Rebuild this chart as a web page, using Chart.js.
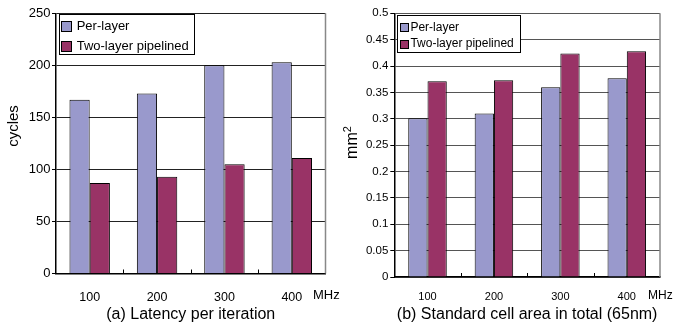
<!DOCTYPE html>
<html>
<head>
<meta charset="utf-8">
<script src="https://cdn.jsdelivr.net/npm/chart.js@4.4.0/dist/chart.umd.min.js"></script>
<style>
html, body { margin: 0; padding: 0; background: #fff; }
#wrap { position: relative; width: 673px; height: 331px; overflow: hidden; }
#latency { position: absolute; left: 0; top: 0; }
#area { position: absolute; left: 340px; top: 0; }
</style>
</head>
<body>
<div id="wrap">
  <canvas id="latency" width="340" height="331"></canvas>
  <canvas id="area" width="333" height="331"></canvas>
</div>
<script>
// data
const freqs = ['100', '200', '300', '400'];
const seriesNames = ['Per-layer', 'Two-layer pipelined'];
const latencyPerLayer = [167, 173, 200, 203];
const latencyPipelined = [87, 93, 105, 111];
const areaPerLayer = [0.301, 0.310, 0.360, 0.377];
const areaPipelined = [0.371, 0.373, 0.424, 0.428];
const latencyTicks = [0, 50, 100, 150, 200, 250];
const areaTicks = [0, 0.05, 0.1, 0.15, 0.2, 0.25, 0.3, 0.35, 0.4, 0.45, 0.5];

const FONT = "'Liberation Sans', Arial, sans-serif";
Chart.defaults.font.family = FONT;
Chart.defaults.color = '#000';

const BLUE = '#9999cc';
const RED = '#993366';

// frame, inner category ticks, boxed legend, unit and y title
const decor = {
  id: 'decor',
  afterDatasetsDraw(chart, args, o) {
    const ctx = chart.ctx;
    const a = chart.chartArea;
    const xs = chart.scales.x;
    ctx.save();

    // right frame line
    ctx.strokeStyle = o.frameColor;
    ctx.lineWidth = 1.5;
    ctx.beginPath();
    ctx.moveTo(a.right, a.bottom);
    ctx.lineTo(a.right, a.top);
    ctx.stroke();

    // small ticks between categories, pointing up
    ctx.strokeStyle = '#000';
    ctx.lineWidth = 1;
    for (let i = 1; i < chart.data.labels.length; i++) {
      const px = Math.round((xs.getPixelForValue(i - 1) + xs.getPixelForValue(i)) / 2) + 0.5;
      ctx.beginPath();
      ctx.moveTo(px, a.bottom);
      ctx.lineTo(px, a.bottom - 4);
      ctx.stroke();
    }

    // legend box
    const lg = o.legend;
    ctx.font = lg.size + 'px ' + FONT;
    const tw = Math.max(...chart.data.datasets.map(d => ctx.measureText(d.label).width));
    const bx = Math.round(a.left + lg.dx);
    const by = Math.round(a.top + lg.dy);
    const bw = Math.round(lg.textX + tw + lg.padR);
    ctx.fillStyle = '#fff';
    ctx.fillRect(bx, by, bw, lg.h);
    ctx.strokeStyle = '#000';
    ctx.strokeRect(bx + 0.5, by + 0.5, bw, lg.h);
    chart.data.datasets.forEach((d, i) => {
      const cy = by + lg.rows[i];
      const sx = Math.round(bx + lg.swX);
      const sy = Math.round(cy - lg.sw / 2);
      ctx.fillStyle = d.backgroundColor;
      ctx.fillRect(sx, sy, lg.sw, lg.sw);
      ctx.strokeStyle = '#000';
      ctx.strokeRect(sx + 0.5, sy + 0.5, lg.sw - 1, lg.sw - 1);
      ctx.fillStyle = '#000';
      ctx.textAlign = 'left';
      ctx.textBaseline = 'middle';
      ctx.fillText(d.label, bx + lg.textX, cy);
    });

    // unit after the last category
    ctx.font = o.unitSize + 'px ' + FONT;
    ctx.fillStyle = '#000';
    ctx.textAlign = 'left';
    ctx.textBaseline = 'middle';
    ctx.fillText(o.unit, a.right + o.unitDx, a.bottom + o.unitDy);

    // rotated y title, optional superscript
    const t = o.yTitle;
    ctx.translate(t.x, t.y);
    ctx.rotate(-Math.PI / 2);
    ctx.font = t.size + 'px ' + FONT;
    const w1 = ctx.measureText(t.text).width;
    let w2 = 0;
    if (t.sup) {
      ctx.font = t.supSize + 'px ' + FONT;
      w2 = ctx.measureText(t.sup).width;
    }
    const x0 = -(w1 + w2) / 2;
    ctx.font = t.size + 'px ' + FONT;
    ctx.fillText(t.text, x0, 0);
    if (t.sup) {
      ctx.font = t.supSize + 'px ' + FONT;
      ctx.fillText(t.sup, x0 + w1, -5);
    }
    ctx.restore();
  }
};

function makeChart(id, c) {
  return new Chart(document.getElementById(id), {
    type: 'bar',
    data: {
      labels: freqs,
      datasets: [
        { label: seriesNames[0], data: c.a, backgroundColor: BLUE, borderColor: '#000', borderWidth: 1 },
        { label: seriesNames[1], data: c.b, backgroundColor: RED, borderColor: '#000', borderWidth: 1 }
      ]
    },
    options: {
      responsive: false,
      animation: false,
      events: [],
      categoryPercentage: c.catPct,
      barPercentage: 1.0,
      layout: { padding: { top: 13.3, right: c.padRight, left: 0, bottom: 0 } },
      plugins: {
        legend: { display: false },
        tooltip: { enabled: false },
        decor: c.decor
      },
      scales: {
        x: {
          grid: { display: false, drawTicks: false },
          border: { display: true, color: '#000', width: 1.5 },
          ticks: { padding: c.xPad, font: { size: c.xSize }, maxRotation: 0 },
          title: { display: true, text: c.title, font: { size: 16 }, padding: { top: 0, bottom: 6.4 } },
          afterFit: s => { s.height = c.xHeight; }
        },
        y: {
          min: c.ticks[0],
          max: c.ticks[c.ticks.length - 1],
          afterBuildTicks: s => { s.ticks = c.ticks.map(v => ({ value: v })); },
          grid: { color: c.gridColor, tickColor: '#000', tickLength: 4, lineWidth: 1 },
          border: { color: '#000', width: 1.5 },
          ticks: { padding: c.yPad, font: { size: c.ySize }, callback: v => +v.toFixed(2) },
          afterFit: s => { s.width = c.yWidth; }
        }
      }
    },
    plugins: [decor]
  });
}

makeChart('latency', {
  a: latencyPerLayer,
  b: latencyPipelined,
  ticks: latencyTicks,
  title: '(a) Latency per iteration',
  catPct: 0.6,
  padRight: 14.5,
  xHeight: 57.5,
  yWidth: 56,
  xPad: 17,
  xSize: 12.5,
  ySize: 13,
  yPad: 1.5,
  gridColor: '#222',
  decor: {
    frameColor: '#888',
    unit: 'MHz', unitSize: 13, unitDx: -12.5, unitDy: 22,
    yTitle: { text: 'cycles', size: 15, x: 14, y: 126 },
    legend: { size: 13, dx: 3, dy: 0.7, swX: 2, sw: 11, textX: 17.7, padR: 5, h: 40, rows: [12.7, 32.7] }
  }
});

makeChart('area', {
  a: areaPerLayer,
  b: areaPipelined,
  ticks: areaTicks,
  title: '(b) Standard cell area in total (65nm)',
  catPct: 0.58,
  padRight: 13,
  xHeight: 54,
  yWidth: 54.3,
  xPad: 13.6,
  xSize: 11,
  ySize: 11.5,
  yPad: 2,
  gridColor: '#555',
  decor: {
    frameColor: '#888',
    unit: 'MHz', unitSize: 12, unitDx: -12, unitDy: 18.5,
    yTitle: { text: 'mm', sup: '2', size: 16, supSize: 11, x: 13, y: 142.5 },
    legend: { size: 12, dx: 3, dy: 1.7, swX: 2.7, sw: 9, textX: 13.4, padR: 6.6, h: 37, rows: [12.3, 29] }
  }
});
</script>
</body>
</html>
